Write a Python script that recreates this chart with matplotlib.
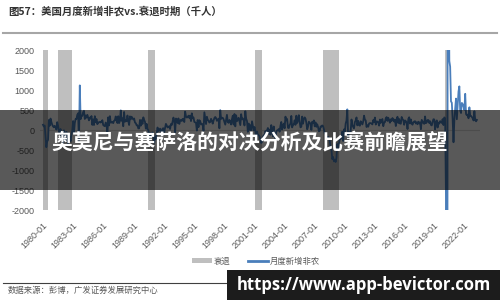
import numpy as np
import matplotlib
matplotlib.use("Agg")
import matplotlib.pyplot as plt
from matplotlib.patches import Patch, Rectangle
from matplotlib.lines import Line2D

plt.rcParams['font.family'] = ['Noto Sans CJK SC', 'DejaVu Sans']

title = "图57：美国月度新增非农vs.衰退时期（千人）"
source = "数据来源：彭博，广发证券发展研究中心"
banner = "奥莫尼与塞萨洛的对决分析及比赛前瞻展望"
watermark = "https://www.app-bevictor.com"
legend_labels = ["衰退", "月度新增非农"]

start_year = 1980
# monthly change in nonfarm payrolls, thousands
nfp_1980s = [131, 87, 113, -158, -432, -286, -248, 251, 108, 286, 201, 132,
             92, 67, 104, 73, 10, 196, 110, -34, -91, 25, -209, -275,
             -327, -6, -129, -281, -45, -243, -342, -158, -181, -277, -124, -14,
             225, -78, 173, 276, 277, 379, 418, -308, 1115, 271, 352, 356,
             446, 480, 275, 363, 308, 379, 313, 241, 311, 286, 349, 127,
             266, 124, 346, 196, 274, 145, 189, 193, 203, 187, 209, 245,
             125, 107, 94, 187, 126, -94, 318, 114, 347, 186, 186, 204,
             172, 232, 249, 339, 224, 174, 345, 173, 227, 492, 232, 293,
             93, 450, 206, 247, 219, 363, 224, 125, 341, 268, 332, 293,
             263, 288, 188, 170, 118, 116, 40, 42, 252, 108, 247, 151]
nfp_1990s = [317, 251, 201, 34, 154, 21, -5, -216, -73, -180, -144, -61,
             -122, -321, -161, -222, -80, 62, -28, -14, 34, -29, -53, 36,
             44, -54, 50, 153, 114, 63, 77, 95, 25, 149, 125, 210,
             311, 236, -55, 287, 262, 174, 290, 151, 232, 256, 225, 277,
             278, 199, 460, 342, 312, 320, 358, 302, 359, 222, 417, 290,
             314, 202, 192, 180, -15, 250, 71, 244, 219, 137, 158, 130,
             -18, 443, 287, 148, 331, 256, 233, 186, 201, 280, 230, 159,
             236, 299, 326, 297, 229, 258, 285, 42, 497, 277, 307, 304,
             267, 198, 134, 258, 379, 200, 179, 251, 204, 137, 269, 356,
             136, 399, 91, 367, 220, 273, 305, 207, 122, 396, 266, 290]
nfp_2000s = [248, 113, 470, 282, 222, -46, 162, 1, 120, -8, 217, 104,
             -8, 76, -26, -281, -37, -128, -128, -158, -247, -325, -294, -173,
             -130, -148, -25, -83, -8, 50, -90, 11, -118, 123, 19, -156,
             88, -162, -213, -45, -10, -2, 25, -43, 101, 201, 11, 116,
             160, 42, 334, 240, 275, 57, 48, 123, 162, 352, 64, 132,
             137, 243, 129, 358, 175, 243, 371, 198, 67, 83, 336, 157,
             279, 315, 283, 181, 17, 84, 207, 183, 156, 2, 207, 171,
             240, 90, 190, 80, 143, 75, -34, -20, 88, 84, 114, 98,
             17, -85, -79, -215, -186, -169, -216, -270, -459, -481, -729, -673,
             -784, -743, -800, -695, -350, -471, -342, -214, -216, -202, -41, -275]
nfp_2010s = [16, -64, 158, 239, 516, -167, -58, -51, -26, 263, 128, 77,
             42, 197, 235, 314, 115, 229, 127, 107, 218, 188, 139, 210,
             358, 262, 239, 75, 118, 82, 161, 173, 171, 161, 140, 247,
             196, 312, 136, 212, 210, 191, 109, 262, 178, 248, 274, 95,
             186, 197, 293, 323, 227, 306, 239, 182, 267, 226, 299, 262,
             211, 261, 98, 254, 331, 174, 275, 162, 157, 326, 271, 247,
             130, 240, 220, 185, 24, 279, 318, 162, 264, 159, 133, 192,
             210, 220, 162, 193, 144, 207, 165, 191, 20, 253, 210, 169,
             155, 339, 171, 190, 249, 248, 175, 219, 128, 114, 202, 269,
             263, 15, 187, 240, 62, 185, 160, 221, 201, 176, 272, 123]
nfp_2020s = [315, 289, -1683, -20679, 2833, 4846, 1726, 1583, 716, 680, 263, -306,
             233, 536, 785, 269, 614, 962, 1091, 483, 424, 677, 647, 588,
             504, 904, 398, 368, 386, 293, 568, 352, 350, 324, 290, 239,
             472, 248, 217, 253]

recessions = [("1980-01", "1980-07"), ("1981-07", "1982-11"), ("1990-07", "1991-03"),
              ("2001-03", "2001-11"), ("2007-12", "2009-06"), ("2020-02", "2020-04")]

x_tick_labels = ["1980-01", "1983-01", "1986-01", "1989-01", "1992-01", "1995-01",
                 "1998-01", "2001-01", "2004-01", "2007-01", "2010-01", "2013-01",
                 "2016-01", "2019-01", "2022-01"]
y_ticks = [-2000, -1500, -1000, -500, 0, 500, 1000, 1500, 2000]


def month_index(s):
    y, m = s.split("-")
    return (int(y) - start_year) * 12 + int(m) - 1


nfp = nfp_1980s + nfp_1990s + nfp_2000s + nfp_2010s + nfp_2020s
x = np.arange(len(nfp))

fig = plt.figure(figsize=(5, 3), dpi=100)
ax = fig.add_axes([0.08, 0.30, 0.88, 160 / 300])

grey = "#bfbfbf"
blue = "#4a7ebb"
txt = "#595959"

for s, e in recessions:
    ax.axvspan(month_index(s) - 0.5, month_index(e) + 0.5, color=grey, lw=0, zorder=1)
ax.axhline(0, color="#d9d9d9", lw=0.8, zorder=0.5)
ax.plot(x, nfp, color=blue, lw=1.3, zorder=3)

ax.set_xlim(-3.6, 522.7)
ax.set_ylim(-2000, 2000)
for sp in ax.spines.values():
    sp.set_visible(False)

ax.set_yticks(y_ticks)
ax.set_yticklabels([str(v) for v in y_ticks], fontsize=6.5, color=txt, family="Liberation Sans")
ax.set_xticks([month_index(l) for l in x_tick_labels])
ax.set_xticklabels(x_tick_labels, rotation=45, ha="right", va="top", rotation_mode="anchor",
                   fontsize=6.5, color=txt, family="Liberation Sans")
ax.tick_params(axis="both", length=0)
ax.tick_params(axis="y", pad=4)
ax.tick_params(axis="x", pad=8)

handles = [Patch(facecolor=grey, edgecolor="none"), Line2D([0], [0], color=blue, lw=2)]
fig.legend(handles, legend_labels, loc="center", bbox_to_anchor=(0.512, 1 - 261 / 300),
           ncol=2, frameon=False, fontsize=6, handlelength=2.4, handleheight=0.6,
           columnspacing=2.0, handletextpad=0.3, labelcolor=txt)

# title and source
fig.text(8 / 500, 1 - 11 / 300, title, fontsize=7.5, color="#333333", va="center",
         ha="left", weight="bold")
fig.add_artist(Line2D([0.006, 0.994], [1 - 33 / 300] * 2, color="#a6a6a6", lw=1.5))
fig.add_artist(Line2D([0.006, 0.994], [1 - 283 / 300] * 2, color="#404040", lw=0.8))
fig.text(8 / 500, 1 - 290 / 300, source, fontsize=6, color=txt, va="center", ha="left")

# overlay band
fig.add_artist(Rectangle((0, 1 - 190 / 300), 1, 80 / 300, transform=fig.transFigure,
                         facecolor="black", alpha=0.65, lw=0, zorder=10))
fig.text(0.5, 1 - 142 / 300, banner, color="white", fontsize=15, weight="bold",
         ha="center", va="center", zorder=11)

# watermark
fig.add_artist(Rectangle((227 / 500, 0), 273 / 500, 30 / 300, transform=fig.transFigure,
                         facecolor="#1c1c1c", lw=0, zorder=12))
fig.text(237 / 500, 15 / 300, watermark, color="white", fontsize=12, weight="bold",
         family="Open Sans", ha="left", va="center", zorder=13)

fig.savefig("out.png", dpi=100)
